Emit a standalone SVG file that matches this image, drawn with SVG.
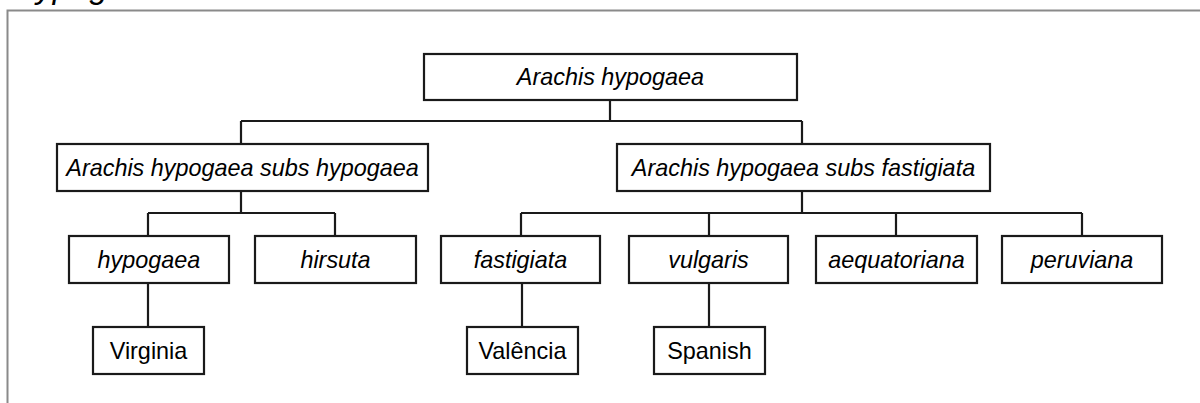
<svg xmlns="http://www.w3.org/2000/svg" width="1200" height="403" viewBox="0 0 1200 403">
<style>
.box{fill:#fff;stroke:#1a1a1a;stroke-width:2.2}
.t{font-family:"Liberation Sans",Arial,sans-serif;font-size:23.4px;fill:#000;text-anchor:middle}
.i{font-style:italic}
.c{fill:none;stroke:#1a1a1a;stroke-width:2.2}
</style>
<rect width="1200" height="403" fill="#fff"/>
<text x="18" y="-2" font-family="Liberation Sans, Arial, sans-serif" font-size="33" font-style="italic" fill="#000">hypogaea</text>
<rect id="frame" x="7.5" y="10.5" width="1200" height="400" fill="none" stroke="#8a8a8a" stroke-width="2"/>
<g id="connectors" class="c">
<path class="c" d="M610,100V121M241,121H802M241,121V144M802,121V144"/>
<path class="c" d="M241,191V213M148,213H335M148,213V236M335,213V236"/>
<path class="c" d="M802,191V213M521,213H1082M521,213V236M709,213V236M896,213V236M1082,213V236"/>
<path class="c" d="M148,283V327M522,283V327M709,283V327"/>
</g>
<g id="root"><rect class="box" x="424" y="54" width="373" height="46"/><text class="t i" x="610.5" y="85">Arachis hypogaea</text></g>
<g id="subs-hypogaea"><rect class="box" x="57" y="144" width="371" height="47"/><text class="t i" x="242.5" y="175.5">Arachis hypogaea subs hypogaea</text></g>
<g id="subs-fastigiata"><rect class="box" x="617" y="144" width="373" height="47"/><text class="t i" x="803.5" y="175.5">Arachis hypogaea subs fastigiata</text></g>
<g id="hypogaea"><rect class="box" x="69" y="236" width="160" height="47"/><text class="t i" x="149" y="267.5">hypogaea</text></g>
<g id="hirsuta"><rect class="box" x="255" y="236" width="161" height="47"/><text class="t i" x="335.5" y="267.5">hirsuta</text></g>
<g id="fastigiata"><rect class="box" x="441" y="236" width="159" height="47"/><text class="t i" x="520.5" y="267.5">fastigiata</text></g>
<g id="vulgaris"><rect class="box" x="629" y="236" width="159" height="47"/><text class="t i" x="708.5" y="267.5">vulgaris</text></g>
<g id="aequatoriana"><rect class="box" x="816" y="236" width="161" height="47"/><text class="t i" x="896.5" y="267.5">aequatoriana</text></g>
<g id="peruviana"><rect class="box" x="1002" y="236" width="160" height="47"/><text class="t i" x="1082" y="267.5">peruviana</text></g>
<g id="virginia"><rect class="box" x="93" y="327" width="111" height="47"/><text class="t" x="148.5" y="358.5">Virginia</text></g>
<g id="valencia"><rect class="box" x="467" y="327" width="111" height="47"/><text class="t" x="522.5" y="358.5">Valência</text></g>
<g id="spanish"><rect class="box" x="654" y="327" width="111" height="47"/><text class="t" x="709.5" y="358.5">Spanish</text></g>
</svg>
